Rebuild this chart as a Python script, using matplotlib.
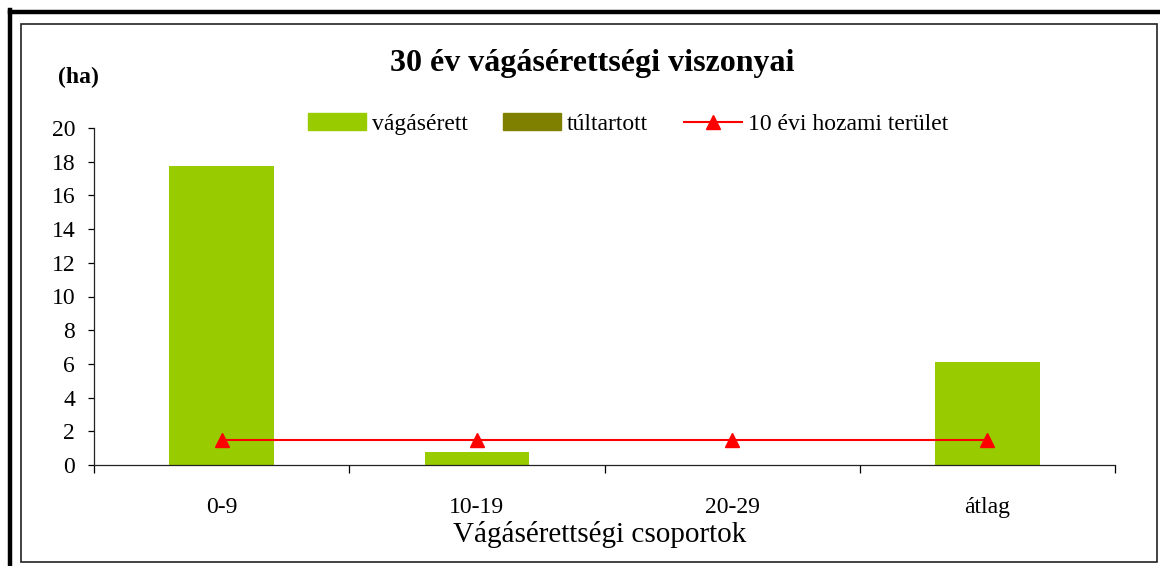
import matplotlib.pyplot as plt
import numpy as np
from matplotlib.lines import Line2D
from matplotlib.patches import Rectangle, Patch

plt.rcParams['font.family'] = ['Liberation Serif', 'DejaVu Serif']

kategoriak = ['0-9', '10-19', '20-29', 'átlag']
vagaserett = [17.75, 0.8, 0.0, 6.12]
tultartott = [0.0, 0.0, 0.0, 0.0]
hozam = [1.5, 1.5, 1.5, 1.5]

W, H = 1160, 566
fig = plt.figure(figsize=(W / 100, H / 100), dpi=100)

def fx(px):
    return px / W

def fy(py):
    return 1 - py / H

# keretek
fig.add_artist(Line2D([fx(10), fx(1160)], [fy(11.5), fy(11.5)], color='black', lw=3.2))
fig.add_artist(Line2D([fx(9.5), fx(9.5)], [fy(10), fy(566)], color='black', lw=3.2))
fig.add_artist(Rectangle((fx(20.5), fy(562)), fx(1157) - fx(20.5), fy(23.5) - fy(562),
                         fill=False, edgecolor='#222222', lw=1.2))

ax = fig.add_axes([fx(94), fy(465), fx(1115) - fx(94), fy(128) - fy(465)])
x = np.arange(len(kategoriak))
ax.bar(x, vagaserett, width=0.41, color='#99CC00')
ax.bar(x, tultartott, width=0.41, bottom=vagaserett, color='#808000')
ax.plot(x, hozam, color='red', lw=1.5, marker='^', markersize=10)

ax.set_xlim(-0.5, 3.5)
ax.set_ylim(0, 20)
ax.set_yticks(range(0, 21, 2))
ax.set_xticks(np.arange(-0.5, 4, 1))
ax.set_xticklabels([])
ax.set_xticks(x, minor=True)
ax.set_xticklabels(kategoriak, minor=True, fontsize=17)
ax.tick_params(axis='x', which='minor', length=0, pad=23)
ax.tick_params(axis='x', which='major', direction='out', length=6, width=0.9)
ax.tick_params(axis='y', direction='out', length=4.5, width=0.9, labelsize=17, pad=9)
for s in ['top', 'right']:
    ax.spines[s].set_visible(False)
for s in ['left', 'bottom']:
    ax.spines[s].set_linewidth(0.9)
    ax.spines[s].set_color('#222222')

fig.text(fx(600), fy(535), 'Vágásérettségi csoportok', ha='center', va='center', fontsize=21)
fig.text(fx(592), fy(64), '30 év vágásérettségi viszonyai', ha='center', va='center',
         fontsize=23, fontweight='bold')
fig.text(fx(78), fy(77), '(ha)', ha='center', va='center', fontsize=17, fontweight='bold')

handles = [Patch(color='#99CC00'), Patch(color='#808000'),
           Line2D([], [], color='red', lw=1.5, marker='^', markersize=10)]
fig.legend(handles, ['vágásérett', 'túltartott', '10 évi hozami terület'],
           loc='center', bbox_to_anchor=(fx(628), fy(124)), ncol=3, frameon=False,
           fontsize=17, handlelength=2.46, handleheight=0.72, columnspacing=1.5,
           handletextpad=0.25)

fig.savefig('out.png', dpi=100)
